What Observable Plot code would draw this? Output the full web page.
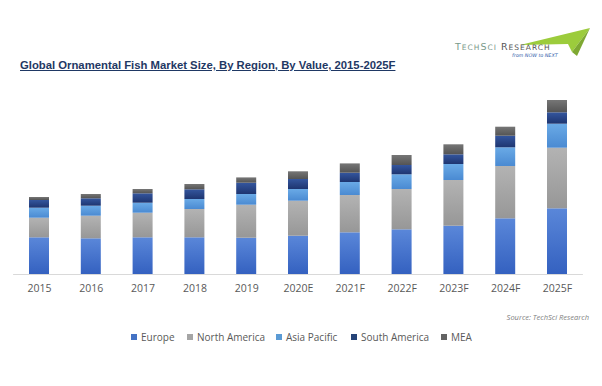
<!DOCTYPE html>
<html>
<head>
<meta charset="utf-8">
<script src="https://cdn.jsdelivr.net/npm/d3@7"></script>
<script src="https://cdn.jsdelivr.net/npm/@observablehq/plot@0.6"></script>
<style>
  html, body { margin: 0; padding: 0; background: #fff; }
  #wrap { position: relative; width: 602px; height: 386px; overflow: hidden; font-family: "Open Sans", sans-serif; }
  #header { position: relative; height: 88px; }
  #title { position: absolute; left: 20px; top: 59px; font-family: "Liberation Sans", Arial, sans-serif; font-weight: bold; font-size: 11.3px; color: #1f3864; text-decoration: underline; white-space: nowrap; }
  #logo { position: absolute; left: 440px; top: 22px; }
  #footer { position: relative; height: 86px; }
  #source { position: absolute; right: 13px; top: 12px; font-style: italic; font-size: 7.5px; color: #7f7f7f; }
  #legend { position: absolute; left: 0; top: 30px; width: 602px; height: 16px; }
  .item { position: absolute; top: 0; display: flex; align-items: center; font-size: 10px; color: #595959; white-space: nowrap; }
  .sw { width: 6px; height: 6px; margin-right: 4px; }
</style>
</head>
<body>
<div id="wrap">
  <div id="header">
    <svg id="logo" width="160" height="45" viewBox="0 0 160 45">
      <polygon points="80,23 150,6 132,30 128,22" fill="#9ccc3c"/>
      <polygon points="132,30 150,6 137,34" fill="#7ea832"/>
      <text x="15" y="28" font-family="DejaVu Sans, sans-serif" font-size="9.5" fill="#7a9a8a" letter-spacing="1">T<tspan font-size="7.5">ECH</tspan>S<tspan font-size="7.5">CI</tspan> <tspan fill="#555">R<tspan font-size="7.5">ESEARCH</tspan></tspan></text>
      <text x="72" y="35" font-family="DejaVu Sans, sans-serif" font-size="4.8" font-style="italic" fill="#2e5aa8">from NOW to NEXT</text>
    </svg>
    <div id="title">Global Ornamental Fish Market Size, By Region, By Value, 2015-2025F</div>
  </div>
  <div id="chart"></div>
  <div id="footer">
    <div id="source">Source: TechSci Research</div>
    <div id="legend"></div>
  </div>
</div>
<script>
const years = ["2015","2016","2017","2018","2019","2020E","2021F","2022F","2023F","2024F","2025F"];
const regions = ["Europe","North America","Asia Pacific","South America","MEA"];
const europe       = [36.7, 35.7, 36.7, 36.7, 36.3, 38.3, 41.7, 44.7, 48.3, 55.7, 65.7];
const northAmerica = [19.6, 22.6, 24.6, 28.3, 33.0, 35.0, 37.3, 40.3, 45.7, 52.3, 60.6];
const asiaPacific  = [10.0, 10.0, 10.0, 10.0, 10.7, 11.7, 13.0, 14.7, 16.0, 18.7, 24.0];
const southAmerica = [ 7.7,  7.4,  9.4,  9.7, 11.3, 10.0,  9.3,  9.3,  9.7, 11.6, 11.4];
const mea          = [ 3.0,  4.3,  4.3,  5.3,  5.3,  7.7,  9.3, 10.0, 10.0,  9.0, 12.3];

const series = [europe, northAmerica, asiaPacific, southAmerica, mea];
const data = [];
regions.forEach((r, i) => years.forEach((y, j) => data.push({year: y, region: r, value: series[i][j]})));

const gradStops = [
  ["#5a87d9", "#3461c0"],
  ["#b3b3b3", "#979797"],
  ["#6aaae6", "#4a8ad2"],
  ["#34569e", "#1e3570"],
  ["#767676", "#545454"]
];
const solid = ["#4472c4", "#a5a5a5", "#5b9bd5", "#264478", "#636363"];
const urls = regions.map((r, i) => `url(#g${i})`);

const chart = Plot.plot({
  width: 602,
  height: 212,
  marginLeft: 13.1,
  marginRight: 19.1,
  marginTop: 0,
  marginBottom: 26,
  style: {background: "transparent"},
  x: {type: "band", domain: years, paddingInner: 0.614, paddingOuter: 0.307, round: false, label: null},
  y: {domain: [0, 186], axis: null},
  color: {domain: regions, range: urls},
  marks: [
    Plot.ruleY([0], {stroke: "#d9d9d9"}),
    Plot.barY(data, {x: "year", y: "value", fill: "region"}),
    Plot.axisX({tickSize: 0, tickPadding: 10, fontSize: 10.5, fill: "#595959", fontFamily: "Open Sans, sans-serif"})
  ]
});

const defs = d3.select(chart).insert("defs", ":first-child");
gradStops.forEach((s, i) => {
  const g = defs.append("linearGradient").attr("id", `g${i}`).attr("x1", 0).attr("y1", 0).attr("x2", 0).attr("y2", 1);
  g.append("stop").attr("offset", "0%").attr("stop-color", s[0]);
  g.append("stop").attr("offset", "100%").attr("stop-color", s[1]);
});
document.getElementById("chart").appendChild(chart);

const legendX = [131, 187, 276, 351, 441];
const legend = document.getElementById("legend");
regions.forEach((r, i) => {
  const it = document.createElement("div");
  it.className = "item";
  it.style.left = legendX[i] + "px";
  const sw = document.createElement("div");
  sw.className = "sw";
  sw.style.background = solid[i];
  it.appendChild(sw);
  it.appendChild(document.createTextNode(r));
  legend.appendChild(it);
});
</script>
</body>
</html>
